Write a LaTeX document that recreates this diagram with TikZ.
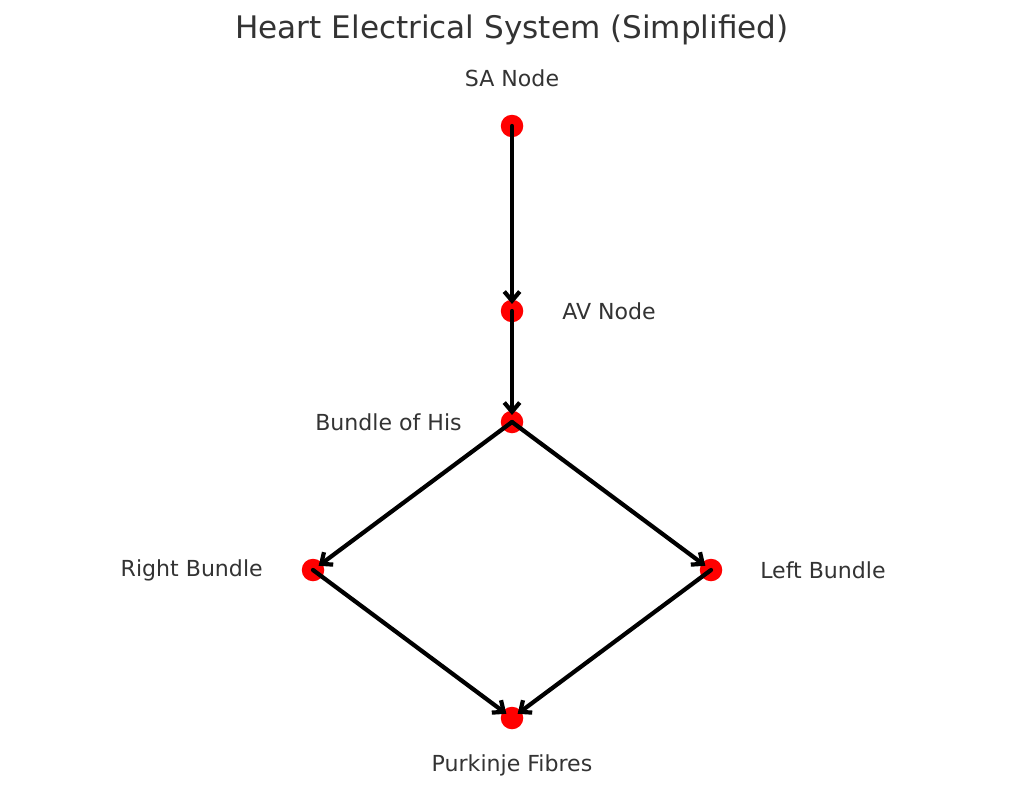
\documentclass[tikz,border=0pt]{standalone}
\usepackage{fontspec}
\setmainfont{DejaVu Sans}
\usetikzlibrary{arrows.meta}
\definecolor{txt}{HTML}{333333}
\begin{document}
\begin{tikzpicture}[x=0.025cm,y=-0.025cm,line join=round,line cap=round,>={Straight Barb[length=6.5pt,width=11pt]},
	dot/.style={circle,fill=red,inner sep=0pt,minimum size=16pt},
	lbl/.style={text=txt,font=\fontsize{15.7}{18}\selectfont,inner sep=0pt},
	link/.style={->,line width=3pt,black,shorten >=5pt}]
	\useasboundingbox (0,0) rectangle (1024,808);
	\node[text=txt,font=\fontsize{22.1}{26}\selectfont] (title) at (512,30) {Heart Electrical System (Simplified)};
	% nodes
	\node[dot] (sa) at (512,126) {};
	\node[dot] (av) at (512,311) {};
	\node[dot] (his) at (512,422) {};
	\node[dot] (rb) at (313,570) {};
	\node[dot] (lb) at (711,570) {};
	\node[dot] (pf) at (512,718) {};
	% labels
	\node[lbl] (salbl) at (512,78) {SA Node};
	\node[lbl,anchor=west] (avlbl) at (562,311) {AV Node};
	\node[lbl,anchor=east] (hislbl) at (462,422) {Bundle of His};
	\node[lbl,anchor=east] (rblbl) at (263,570) {Right Bundle};
	\node[lbl,anchor=west] (lblbl) at (760,570) {Left Bundle};
	\node[lbl] (pflbl) at (512,765) {Purkinje Fibres};
	% connections
	\draw[link] (sa.center)--(av.center);
	\draw[link] (av.center)--(his.center);
	\draw[link] (his.center)--(rb.center);
	\draw[link] (his.center)--(lb.center);
	\draw[link] (rb.center)--(pf.center);
	\draw[link] (lb.center)--(pf.center);
\end{tikzpicture}
\end{document}
